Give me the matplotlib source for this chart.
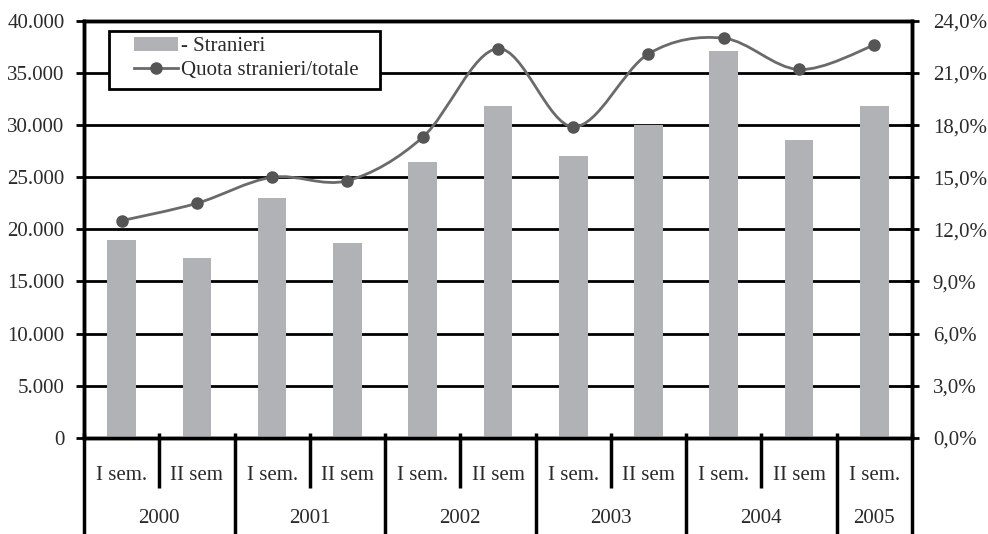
import matplotlib
matplotlib.use("Agg")
import matplotlib.pyplot as plt
from matplotlib.path import Path
from matplotlib.patches import PathPatch, Patch, Rectangle
from matplotlib.lines import Line2D
from matplotlib.ticker import FuncFormatter, MultipleLocator
import matplotlib.transforms as mtransforms
import numpy as np

plt.rcParams['font.family'] = ['Liberation Serif', 'DejaVu Serif']

semesters = ["I sem.", "II sem", "I sem.", "II sem", "I sem.", "II sem",
             "I sem.", "II sem", "I sem.", "II sem", "I sem."]
years = ["2000", "2001", "2002", "2003", "2004", "2005"]
year_spans = [2, 2, 2, 2, 2, 1]
stranieri = [19000, 17300, 23000, 18700, 26500, 31800, 27000, 30000, 37100, 28600, 31800]
quota = [12.5, 13.5, 15.0, 14.8, 17.3, 22.4, 17.9, 22.1, 23.0, 21.2, 22.6]

bar_color = "#b1b2b5"
line_color = "#6a6a6a"
marker_color = "#555555"
text_color = "#2a2a2a"
fs = 15

fig = plt.figure(figsize=(9.88, 5.34), dpi=100)
ax = fig.add_axes([0.085, 0.180, 0.838, 0.781])
ax2 = ax.twinx()

x = np.arange(len(stranieri))
ax.bar(x, stranieri, width=0.38, color=bar_color, zorder=3)
ax.set_xlim(-0.5, len(stranieri) - 0.5)
ax.set_ylim(0, 40000)
ax.yaxis.set_major_locator(MultipleLocator(5000))
ax.yaxis.set_major_formatter(FuncFormatter(lambda v, p: f"{int(v):,}".replace(",", ".")))
for yv in np.arange(5000, 40000, 5000):
    ax.axhline(yv, color="black", lw=2, zorder=1)
ax.set_xticks([])
ax.tick_params(axis="y", direction="out", length=6, width=2, labelsize=fs, pad=8,
               color="black", labelcolor=text_color)
for s in ax.spines.values():
    s.set_linewidth(2.5)
    s.set_color("black")

# Share line on the secondary axis, smoothed with cubic Bezier segments
ax2.set_ylim(0, 24)
ax2.yaxis.set_major_locator(MultipleLocator(3))
ax2.yaxis.set_major_formatter(FuncFormatter(lambda v, p: f"{v:.1f}".replace(".", ",") + "%"))
ax2.tick_params(axis="y", direction="inout", length=10, width=2, labelsize=fs, pad=10,
                color="black", labelcolor=text_color)
for s in ax2.spines.values():
    s.set_linewidth(2.5)
    s.set_color("black")

pts = np.column_stack([x, quota]).astype(float)
n = len(pts)
verts = [tuple(pts[0])]
codes = [Path.MOVETO]
for i in range(n - 1):
    p0 = pts[max(i - 1, 0)]
    p1 = pts[i]
    p2 = pts[i + 1]
    p3 = pts[min(i + 2, n - 1)]
    c1 = p1 + (p2 - p0) / 6.0
    c2 = p2 - (p3 - p1) / 6.0
    verts += [tuple(c1), tuple(c2), tuple(p2)]
    codes += [Path.CURVE4] * 3
ax2.add_patch(PathPatch(Path(verts, codes), fill=False, edgecolor=line_color, lw=2, zorder=4))
ax2.plot(x, quota, linestyle="none", marker="o", markersize=8,
         color=marker_color, zorder=5)

# Two-level category axis
trans = mtransforms.blended_transform_factory(ax.transData, ax.transAxes)
sem_bottom = -0.12
fig_bottom = -0.235
for i, lab in enumerate(semesters):
    ax.text(i, -0.09, lab, transform=trans, ha="center", va="center",
            fontsize=fs, color=text_color)
edges = np.cumsum([0] + year_spans) - 0.5
for k, yr in enumerate(years):
    ax.text((edges[k] + edges[k + 1]) / 2, -0.194, yr, transform=trans,
            ha="center", va="center", fontsize=fs, color=text_color)
for k in range(len(stranieri) + 1):
    xv = k - 0.5
    y_end = fig_bottom if xv in edges else sem_bottom
    ax.plot([xv, xv], [0.012, y_end], transform=trans, color="black",
            lw=2.5, clip_on=False, solid_capstyle="butt")

# Legend box with a wide left margin
ax2.add_patch(Rectangle((0.0302, 0.837), 0.3273, 0.139, transform=ax2.transAxes,
                        facecolor="white", edgecolor="black", lw=2, zorder=9))
handles = [Patch(facecolor=bar_color, edgecolor="none", label="- Stranieri"),
           Line2D([0], [0], color=line_color, lw=2, marker="o", markersize=8,
                  markerfacecolor=marker_color, markeredgecolor=marker_color,
                  label="Quota stranieri/totale")]
leg = ax2.legend(handles=handles, loc="upper left", bbox_to_anchor=(0.0604, 0.962),
                 fontsize=fs, frameon=False, borderpad=0,
                 labelspacing=0.22, handlelength=2.1, handletextpad=0.15,
                 borderaxespad=0)
for t in leg.get_texts():
    t.set_color(text_color)
leg.set_zorder(10)

fig.savefig("out.png", dpi=100)
